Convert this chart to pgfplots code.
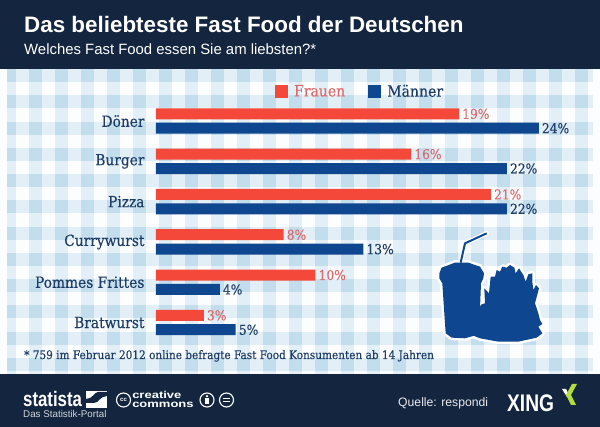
\documentclass[border=0pt]{standalone}
\usepackage{fontspec}
\usepackage{pgfplots}
\pgfplotsset{compat=1.18}
\setmainfont{Liberation Sans}
\newfontfamily\slab[FakeBold=0.25]{DejaVu Serif Condensed}
\definecolor{navy}{HTML}{14263F}
\definecolor{frauen}{HTML}{F4493A}
\definecolor{maenner}{HTML}{0F4690}
\definecolor{slabtext}{HTML}{1D3C66}
\definecolor{redtext}{HTML}{DC6B6B}
\definecolor{check}{HTML}{A9CFE4}
\begin{document}
\begin{tikzpicture}
\useasboundingbox (0,0) rectangle (600pt,427pt);
% everything in this scope is in reference pixels, y downwards
\begin{scope}[x=1pt,y=-1pt,yshift=427pt]
\fill[white!97!check] (0,0) rectangle (600,427);
\fill[check,opacity=.3] (7,69) rectangle (16,374);
\foreach \x in {29,55,81,107,133,159,185,211,237,263,289,315,341,367,393,419,445,471,497,523,549,575}
  \fill[check,opacity=.3] (\x,69) rectangle ++(13,305);
\foreach \y in {69,95.5,122,148,174,200.5,227,253,279,305,332,358.5}
  \fill[check,opacity=.3] (7,\y) rectangle (593,\y+13);
% crossings of the stripes are darker
\foreach \y in {69,95.5,122,148,174,200.5,227,253,279,305,332,358.5}{
  \fill[check,opacity=.35] (7,\y) rectangle (16,\y+13);
  \foreach \x in {29,55,81,107,133,159,185,211,237,263,289,315,341,367,393,419,445,471,497,523,549,575}
    \fill[check,opacity=.35] (\x,\y) rectangle ++(13,13);
}
\fill[navy] (0,0) rectangle (600,69);
\fill[navy] (0,374) rectangle (600,427);
\node[anchor=base west,inner sep=0,white,font=\bfseries\fontsize{22.4}{24}\selectfont] at (24,33) {Das beliebteste Fast Food der Deutschen};
\node[anchor=base west,inner sep=0,white,font=\fontsize{14.9}{17}\selectfont] at (24,55) {Welches Fast Food essen Sie am liebsten?*};
\node[anchor=base west,inner sep=0,slabtext,font=\slab\fontsize{11.7}{13}\selectfont] at (24,359) {* 759 im Februar 2012 online befragte Fast Food Konsumenten ab 14 Jahren};
% drink and fries, coordinates as read from a 3x crop
\begin{scope}[shift={(425,225)},x=.3333pt,y=-.3333pt,maenner,line join=round]
\def\cup{(43,145) -- (50,128) -- (90,113) -- (130,113) -- (165,125) -- (177,145) -- (175,160) -- (168,175) -- (165,250) -- (155,330) -- (120,340) -- (80,338) -- (62,325) -- (52,175) -- (43,160) -- cycle}
\def\fries{(160,250) -- (170,238) -- (180,235) -- (178,190) -- (192,205) -- (197,155) -- (210,155) -- (215,135) -- (225,140) -- (232,125) -- (245,128) -- (255,120) -- (268,128) -- (272,145) -- (282,130) -- (295,150) -- (302,170) -- (310,148) -- (322,145) -- (322,170) -- (325,195) -- (333,180) -- (342,190) -- (330,235) -- (340,265) -- (345,285) -- (352,297) -- (340,305) -- (352,325) -- (335,338) -- (280,350) -- (220,350) -- (165,340) -- (140,330) -- (150,260) -- cycle}
\draw[white,line width=5pt] \cup;
\draw[white,line width=5pt] \fries;
\draw[white,line width=4.5pt,line cap=round] (107,113) -- (120,55) -- (185,25);
\draw[maenner,line width=2pt] (107,113) -- (120,55) -- (185,25);
\fill \cup;
\fill \fries;
\end{scope}
% footer
\node[anchor=base west,inner sep=0,white,font=\bfseries\fontsize{21}{22}\selectfont,xscale=.8] at (23,407) {statista};
\fill[white] (86,391) rectangle (107,408);
\fill[navy] (86,403) -- (94,403) .. controls (99,403) and (100,396) .. (107,396) -- (107,392) -- (98,392) .. controls (94,392) and (93,399) .. (86,399) -- cycle;
\node[anchor=base west,inner sep=0,white!80!navy,font=\fontsize{9.8}{11}\selectfont] at (23,418) {Das Statistik-Portal};
\draw[white,line width=1.1pt] (123.5,400) circle (7);
\node[white,inner sep=0,font=\bfseries\fontsize{6}{6}\selectfont] at (123.5,400) {cc};
\node[anchor=north west,inner sep=0,white,align=left,xscale=1.3,font=\bfseries\fontsize{10}{9.5}\selectfont] at (132,391) {creative\\commons};
\draw[white,line width=1.1pt] (207,400) circle (7);
\fill[white] (207,396.2) circle (1.3);
\fill[white] (205.3,398.2) rectangle (208.7,403.8);
\draw[white,line width=1.1pt] (226.5,400) circle (7);
\fill[white] (223,397.6) rectangle (230,399.1);
\fill[white] (223,400.9) rectangle (230,402.4);
\node[anchor=base west,inner sep=0,white!90!navy,font=\fontsize{12.2}{14}\selectfont] at (398,407) {Quelle: respondi};
\node[anchor=base west,inner sep=0,white,font=\bfseries\fontsize{24}{26}\selectfont,xscale=.8] at (507,412) {XING};
\fill[white] (562,389) -- (566,389) -- (570,397) -- (567,397) -- cycle;
\fill[yellow!65!green!85!white] (572,384) -- (577,384) -- (571,395) -- (576,405) -- (571,405) -- (566,395) -- cycle;
\end{scope}
\begin{axis}[
    at={(156pt,84.3pt)},
    anchor=south west,
    scale only axis,
    width=438.6pt,
    height=241.8pt,
    xmin=0, xmax=27.5,
    ymin=-0.5, ymax=5.5,
    xbar,
    bar width=11pt,
    axis x line=none,
    axis y line*=left,
    y axis line style={draw=none},
    major tick length=0pt,
    ytick={0,1,2,3,4,5},
    yticklabels={Bratwurst,Pommes Frittes,Currywurst,Pizza,Burger,Döner},
    yticklabel style={font=\slab\fontsize{15.3}{17}\selectfont,text=slabtext,xshift=-8pt},
    clip=false,
    point meta=x,
    /pgf/number format/assume math mode=true,
    nodes near coords={\pgfmathprintnumber\pgfplotspointmeta\%},
    legend columns=2,
    legend style={at={(0.271,1.039)},anchor=west,draw=none,fill=none,inner sep=0pt,
        /tikz/every odd column/.style={column sep=4pt},
        /tikz/every even column/.style={column sep=21pt},
        font=\slab\fontsize{15.6}{17}\selectfont},
    legend cell align=left,
    legend image code/.code={\fill[#1] (0pt,-6.5pt) rectangle (13pt,6.5pt);},
]
\addplot[draw=none,fill=frauen,bar shift=7.2pt,
    nodes near coords style={text=redtext,font=\slab\fontsize{13.6}{16}\selectfont,anchor=west,inner sep=3pt}] coordinates {
    (19,5)
    (16,4)
    (21,3)
    (8,2)
    (10,1)
    (3,0)
};
\addlegendentry{\textcolor{redtext}{Frauen}}
\addplot[draw=none,fill=maenner,bar shift=-7.2pt,
    nodes near coords style={text=slabtext,font=\slab\fontsize{13.6}{16}\selectfont,anchor=west,inner sep=3pt}] coordinates {
    (24,5)
    (22,4)
    (22,3)
    (13,2)
    (4,1)
    (5,0)
};
\addlegendentry{\textcolor{slabtext}{Männer}}
\end{axis}
\end{tikzpicture}
\end{document}
